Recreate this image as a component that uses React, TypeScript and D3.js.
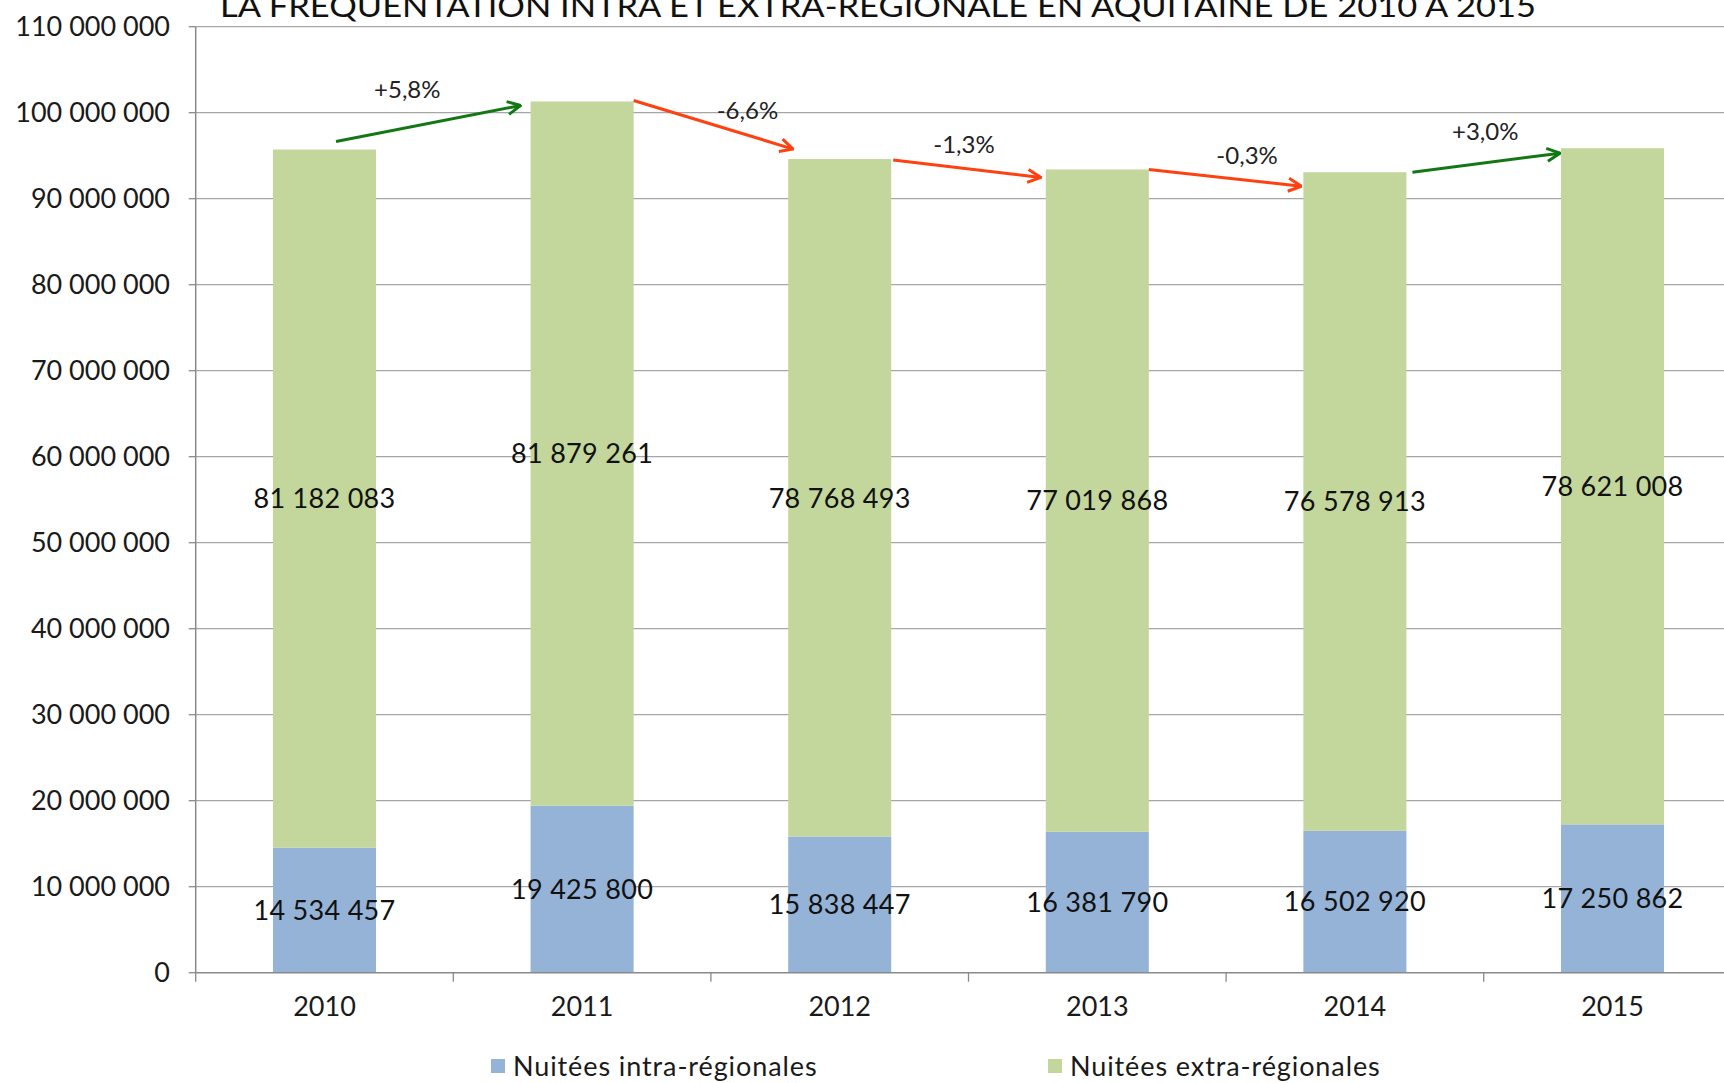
import React from "react";
import * as d3 from "d3";

const title = "LA FREQUENTATION INTRA ET EXTRA-REGIONALE EN AQUITAINE DE 2010 A 2015";
const years = ["2010", "2011", "2012", "2013", "2014", "2015"];
const intra = [14534457, 19425800, 15838447, 16381790, 16502920, 17250862];
const extra = [81182083, 81879261, 78768493, 77019868, 76578913, 78621008];
const changes = ["+5,8%", "-6,6%", "-1,3%", "-0,3%", "+3,0%"];
const yTicks = [0, 10e6, 20e6, 30e6, 40e6, 50e6, 60e6, 70e6, 80e6, 90e6, 100e6, 110e6];
const seriesNames = ["Nuitées intra-régionales", "Nuitées extra-régionales"];

// annotation layout nudges (px): start dx, start dy, end dx, end dy, label dx, label dy
const arrowNudge = [
  [-40, -8, -10, 4, -21, -34],
  [0, -1, 5, -10, 34, -14],
  [2, 1, -5, 8, -3, -24],
  [0, 0, -2, 14, 22, -22],
  [6, 0, -1, 5, -1, -31],
];

const W = 1724;
const H = 1083;
const fmt = (v: number) => d3.format(",")(v).replace(/,/g, " ");
const FONT = "Lato, 'Noto Sans', sans-serif";
const BLUE = "#95B3D7";
const GREEN = "#C3D69B";
const UP = "#137813";
const DOWN = "#FF4010";

export default function App() {
  const left = 195.7;
  const band = 257.6;
  const x = d3.scaleBand<string>().domain(years).range([left, left + band * years.length]).paddingInner(0.6).paddingOuter(0.3);
  const y = d3.scaleLinear().domain([0, 110e6]).range([972.7, 26.7]);
  const bw = x.bandwidth();
  const totals = years.map((_, i) => intra[i] + extra[i]);
  const bounds = d3.range(years.length + 1).map((i) => left + band * i);

  return (
    <svg width={W} height={H} style={{ position: "absolute", left: 0, top: 0, background: "#fff" }} fontFamily={FONT}>
      <defs>
        <marker id="mUp" viewBox="0 0 16 16" refX="15" refY="8" markerWidth="16" markerHeight="16" markerUnits="userSpaceOnUse" orient="auto">
          <path d="M2,1.5 L15,8 L2,14.5" fill="none" stroke={UP} strokeWidth={3} />
        </marker>
        <marker id="mDown" viewBox="0 0 16 16" refX="15" refY="8" markerWidth="16" markerHeight="16" markerUnits="userSpaceOnUse" orient="auto">
          <path d="M2,1.5 L15,8 L2,14.5" fill="none" stroke={DOWN} strokeWidth={3} />
        </marker>
      </defs>
      <text x={220} y={17} fontSize={31} fill="#111" textLength={1316} lengthAdjust="spacingAndGlyphs">{title}</text>
      {yTicks.map((t) => (
        <g key={t}>
          {t > 0 && <line x1={left} x2={W} y1={y(t)} y2={y(t)} stroke="#a6a6a6" strokeWidth={1.3} />}
          <line x1={left - 7} x2={left} y1={y(t)} y2={y(t)} stroke="#8a8a8a" strokeWidth={1.3} />
          <text x={170} y={y(t)} dy="0.36em" textAnchor="end" fontSize={27} fill="#1a1a1a">{fmt(t)}</text>
        </g>
      ))}
      {years.map((yr, i) => (
        <g key={yr}>
          <rect x={x(yr)} width={bw} y={y(intra[i])} height={y(0) - y(intra[i])} fill={BLUE} />
          <rect x={x(yr)} width={bw} y={y(totals[i])} height={y(intra[i]) - y(totals[i])} fill={GREEN} />
          <text x={x(yr)! + bw / 2} y={y(intra[i] / 2)} dy="0.36em" textAnchor="middle" fontSize={27} fill="#111" letterSpacing={0.3}>{fmt(intra[i])}</text>
          <text x={x(yr)! + bw / 2} y={y(intra[i] + extra[i] / 2)} dy="0.36em" textAnchor="middle" fontSize={27} fill="#111" letterSpacing={0.3}>{fmt(extra[i])}</text>
          <text x={x(yr)! + bw / 2} y={1006} dy="0.36em" textAnchor="middle" fontSize={27} fill="#1a1a1a">{yr}</text>
        </g>
      ))}
      <line x1={left} x2={W} y1={y(0)} y2={y(0)} stroke="#8a8a8a" strokeWidth={1.5} />
      <line x1={left} x2={left} y1={y(110e6)} y2={y(0)} stroke="#8a8a8a" strokeWidth={1.5} />
      {bounds.map((b, i) => (
        <line key={i} x1={b} x2={b} y1={y(0)} y2={y(0) + 9} stroke="#8a8a8a" strokeWidth={1.3} />
      ))}
      {changes.map((c, i) => {
        const n = arrowNudge[i];
        const x0 = x(years[i])! + bw + n[0];
        const y0 = y(totals[i]) + n[1];
        const x1 = x(years[i + 1])! + n[2];
        const y1 = y(totals[i + 1]) + n[3];
        const up = c.startsWith("+");
        const col = up ? UP : DOWN;
        return (
          <g key={c}>
            <line x1={x0} y1={y0} x2={x1} y2={y1} stroke={col} strokeWidth={3} markerEnd={`url(#${up ? "mUp" : "mDown"})`} />
            <text x={(x0 + x1) / 2 + n[4]} y={(y0 + y1) / 2 + n[5]} dy="0.36em" textAnchor="middle" fontSize={24} fill="#222">{c}</text>
          </g>
        );
      })}
      {seriesNames.map((s, i) => (
        <g key={s}>
          <rect x={i === 0 ? 491 : 1048} y={1059} width={14} height={14} fill={i === 0 ? BLUE : GREEN} />
          <text x={i === 0 ? 513 : 1070} y={1066} dy="0.36em" fontSize={27} fill="#1a1a1a" letterSpacing={0.9}>{s}</text>
        </g>
      ))}
    </svg>
  );
}
